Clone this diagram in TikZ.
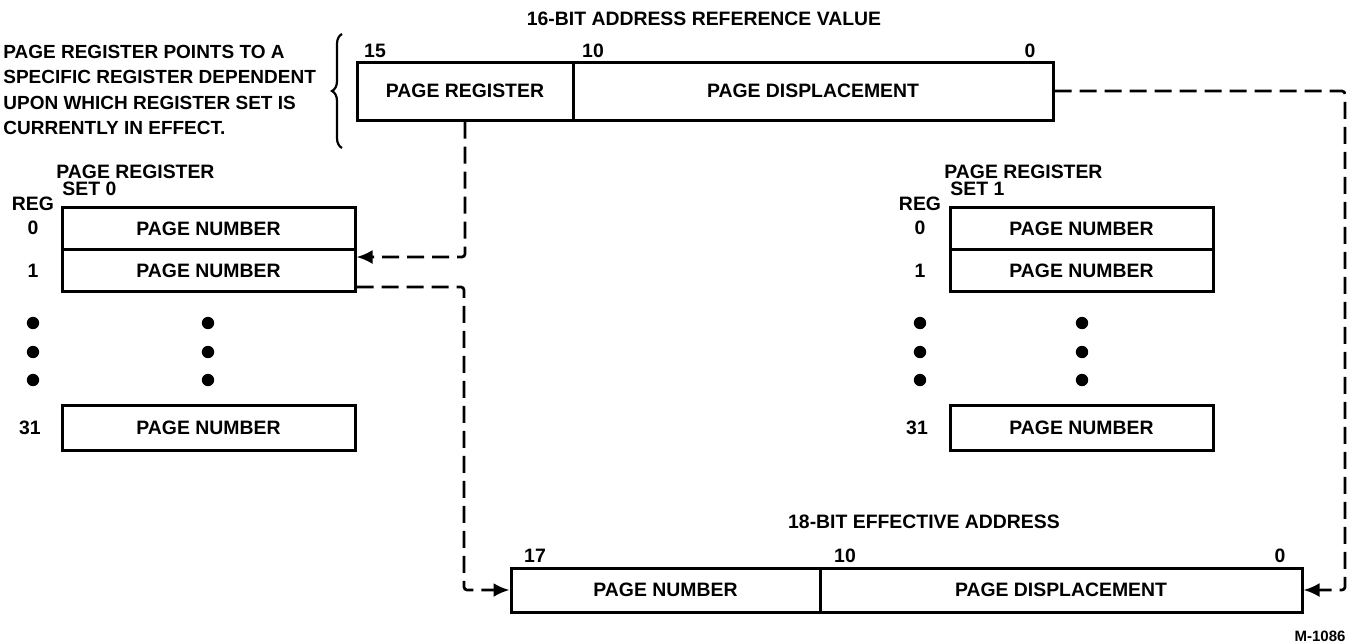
\documentclass[tikz,border=0pt]{standalone}
\usepackage{fontspec}
\setmainfont{Liberation Sans}
\usetikzlibrary{arrows.meta,decorations.pathreplacing}
\newcommand\lbl{\fontsize{9.7pt}{12.6pt}\selectfont\bfseries}
\tikzset{
  cell/.style={draw, line width=1.5pt, inner sep=0pt, font=\lbl, anchor=center},
  txt/.style={inner sep=0pt, font=\lbl},
  dl/.style={line width=1.35pt, dash pattern=on 8.5pt off 4pt, rounded corners=1.5pt},
  arr/.style={-{Latex[length=8pt,width=7pt]}},
  dot/.style={circle, fill, inner sep=0pt, minimum size=6.2pt}
}
\begin{document}
\begin{tikzpicture}[x=0.5pt,y=-0.5pt]
\useasboundingbox (0,0) rectangle (1354,643);
% title
\node[txt] (t1) at (704,19) {16-BIT ADDRESS REFERENCE VALUE};
\node[txt] (n15) at (375,51) {15};
\node[txt] (n10a) at (593,51) {10};
\node[txt] (n0a) at (1030,51) {0};
% top box
\node[cell, minimum width=108pt, minimum height=29pt] (pr) at (465,91) {PAGE REGISTER};
\node[cell, minimum width=240pt, minimum height=29pt] (pd) at (813,91) {PAGE DISPLACEMENT};
% note and brace
\node[txt, align=left, anchor=west, font=\fontsize{9.5pt}{12.6pt}\selectfont\bfseries] (note) at (3,90) {PAGE REGISTER POINTS TO A\\SPECIFIC REGISTER DEPENDENT\\UPON WHICH REGISTER SET IS\\CURRENTLY IN EFFECT.};
\draw[line width=1.1pt, decorate, decoration={brace, amplitude=5pt}] (342,148) -- (342,34);
% left set
\node[txt, anchor=west] (lh1) at (56,172) {PAGE REGISTER};
\node[txt, anchor=west] (lh2) at (62,189) {SET 0};
\node[txt] (lreg) at (33,204) {REG};
\node[cell, minimum width=146.5pt, minimum height=21pt] (L0) at (208.5,228.5) {PAGE NUMBER};
\node[cell, minimum width=146.5pt, minimum height=21pt] (L1) at (208.5,270.5) {PAGE NUMBER};
\node[cell, minimum width=146.5pt, minimum height=22.5pt] (L31) at (208.5,427.5) {PAGE NUMBER};
\node[txt] (lr0) at (33,228) {0};
\node[txt] (lr1) at (33,271) {1};
\node[txt] (lr31) at (30,428) {31};
\node[dot] (ld1) at (33,323) {};
\node[dot] (ld2) at (33,352) {};
\node[dot] (ld3) at (33,380) {};
\node[dot] (ld4) at (208,323) {};
\node[dot] (ld5) at (208,352) {};
\node[dot] (ld6) at (208,380) {};
% right set
\node[txt, anchor=west] (rh1) at (944,172) {PAGE REGISTER};
\node[txt, anchor=west] (rh2) at (950,189) {SET 1};
\node[txt] (rreg) at (920,204) {REG};
\node[cell, minimum width=131.5pt, minimum height=21pt] (R0) at (1081.5,228.5) {PAGE NUMBER};
\node[cell, minimum width=131.5pt, minimum height=21pt] (R1) at (1081.5,270.5) {PAGE NUMBER};
\node[cell, minimum width=131.5pt, minimum height=22.5pt] (R31) at (1081.5,427.5) {PAGE NUMBER};
\node[txt] (rr0) at (920,228) {0};
\node[txt] (rr1) at (920,271) {1};
\node[txt] (rr31) at (917,428) {31};
\node[dot] (rd1) at (920,323) {};
\node[dot] (rd2) at (920,352) {};
\node[dot] (rd3) at (920,380) {};
\node[dot] (rd4) at (1082,323) {};
\node[dot] (rd5) at (1082,352) {};
\node[dot] (rd6) at (1082,380) {};
% bottom
\node[txt] (t2) at (924,522) {18-BIT EFFECTIVE ADDRESS};
\node[txt] (n17) at (535,556) {17};
\node[txt] (n10b) at (845,556) {10};
\node[txt] (n0b) at (1280,556) {0};
\node[cell, minimum width=154.5pt, minimum height=22pt] (bpn) at (665.5,590) {PAGE NUMBER};
\node[cell, minimum width=241pt, minimum height=22pt] (bpd) at (1061,590) {PAGE DISPLACEMENT};
\node[txt, font=\fontsize{7.5pt}{9pt}\selectfont\bfseries] (mid) at (1320,636) {M-1086};
% connectors
\coordinate (a1) at (0,257);
\coordinate (b1) at (0,287);
\coordinate (v1) at (464,287);
\coordinate (rc) at (1345,91);
\draw[dl,arr] (pr.south) |- (L1.east |- a1);
\draw[dl,arr] (L1.east |- b1) -- (v1) |- (bpn.west);
\draw[dl,arr] (pd.east) -- (rc) |- (bpd.east);
\end{tikzpicture}
\end{document}
